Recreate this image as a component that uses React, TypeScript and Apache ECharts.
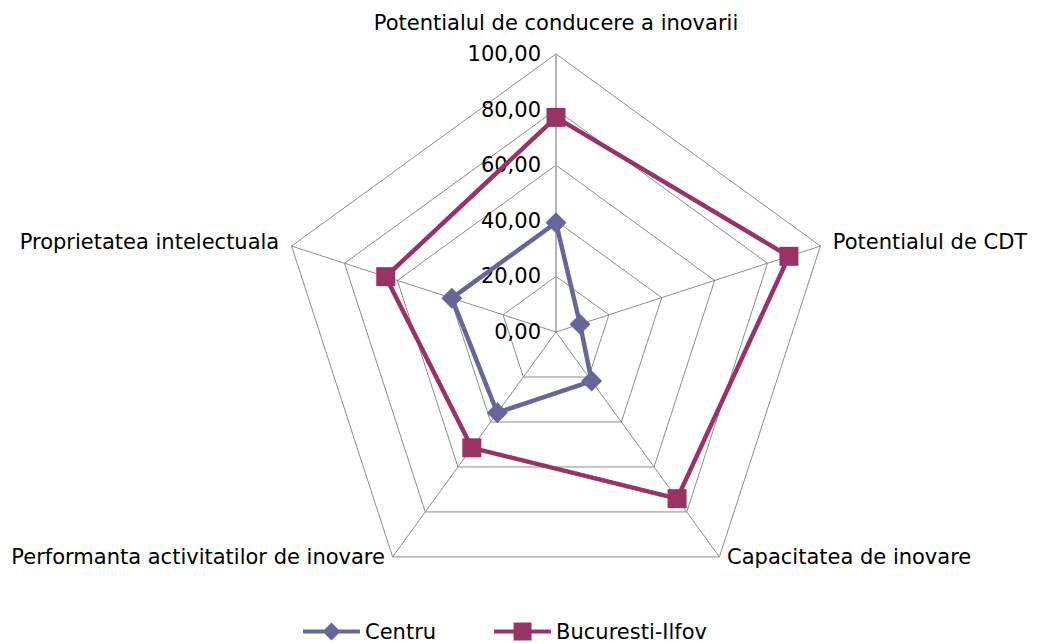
import React, { useEffect, useRef } from "react";
import * as echarts from "echarts";

// clockwise from top
const axisNames = [
  "Potentialul de conducere a inovarii",
  "Potentialul de CDT",
  "Capacitatea de inovare",
  "Performanta activitatilor de inovare",
  "Proprietatea intelectuala",
];
const centru = [39.3, 9.1, 21.8, 35.9, 39.4];
const bucuresti = [77.2, 88.1, 74.1, 51.5, 64.4];
const seriesNames = ["Centru", "Bucuresti-Ilfov"];

const FONT = "DejaVu Sans";
const C1 = "#666699";
const C2 = "#993366";

// ECharts radar goes counter-clockwise; reorder to get clockwise placement
const order = [0, 4, 3, 2, 1];

export default function App() {
  const ref = useRef<HTMLDivElement>(null);
  useEffect(() => {
    const chart = echarts.init(ref.current!, undefined, { renderer: "svg" });
    const diamondIcon =
      "path://M0,7 H21.5 L28.5,0 L35.5,7 H57 V11 H35.5 L28.5,18 L21.5,11 H0 Z";
    const squareIcon =
      "path://M0,7 H19.5 V0 H37.5 V7 H57 V11 H37.5 V18 H19.5 V11 H0 Z";
    chart.setOption({
      animation: false,
      backgroundColor: "#fff",
      legend: {
        left: 298,
        top: 616,
        itemWidth: 57,
        itemHeight: 18,
        itemGap: 58,
        textStyle: { fontFamily: FONT, fontSize: 21, color: "#000" },
        data: [
          { name: seriesNames[0], icon: diamondIcon, itemStyle: { color: C1, borderWidth: 0 } },
          { name: seriesNames[1], icon: squareIcon, itemStyle: { color: C2, borderWidth: 0 } },
        ],
      },
      radar: {
        center: [556, 332],
        radius: 278,
        startAngle: 90,
        splitNumber: 5,
        shape: "polygon",
        nameGap: 13,
        axisName: {
          color: "#000",
          fontFamily: FONT,
          fontSize: 21,
          formatter: (name: string) => {
            if (name === axisNames[0]) return "{t|" + name + "}";
            if (name === axisNames[2] || name === axisNames[3]) return "{b|" + name + "}";
            return "{s|" + name + "}";
          },
          rich: {
            t: { fontFamily: FONT, fontSize: 21, color: "#000", padding: [0, 0, 8, 0] },
            b: { fontFamily: FONT, fontSize: 21, color: "#000", padding: [0, 0, 20, 0] },
            s: { fontFamily: FONT, fontSize: 21, color: "#000", padding: [0, 0, 0, 0] },
          },
        },
        splitLine: { lineStyle: { color: "#8c8c8c", width: 1 } },
        splitArea: { show: false },
        axisLine: { lineStyle: { color: "#8c8c8c", width: 1 } },
        axisTick: { show: false },
        indicator: order.map((i) => ({
          name: axisNames[i],
          min: 0,
          max: 100,
          ...(i === 0
            ? {
                axisLine: { lineStyle: { color: "#b4b4b4", width: 2 } },
                axisLabel: {
                  show: true,
                  margin: 15,
                  fontFamily: FONT,
                  fontSize: 21,
                  color: "#000",
                  formatter: (v: number) => v.toFixed(2).replace(".", ","),
                },
              }
            : {}),
        })),
      },
      series: [
        {
          type: "radar",
          data: [
            {
              name: seriesNames[0],
              value: order.map((i) => centru[i]),
              symbol: "diamond",
              symbolSize: 21,
              lineStyle: { color: C1, width: 4.5 },
              itemStyle: { color: C1 },
            },
            {
              name: seriesNames[1],
              value: order.map((i) => bucuresti[i]),
              symbol: "rect",
              symbolSize: 19,
              lineStyle: { color: C2, width: 4.5 },
              itemStyle: { color: C2 },
            },
          ],
        },
      ],
    });
    return () => chart.dispose();
  }, []);
  return (
    <div
      ref={ref}
      style={{ position: "fixed", left: 0, top: 0, width: 1038, height: 643 }}
    />
  );
}
